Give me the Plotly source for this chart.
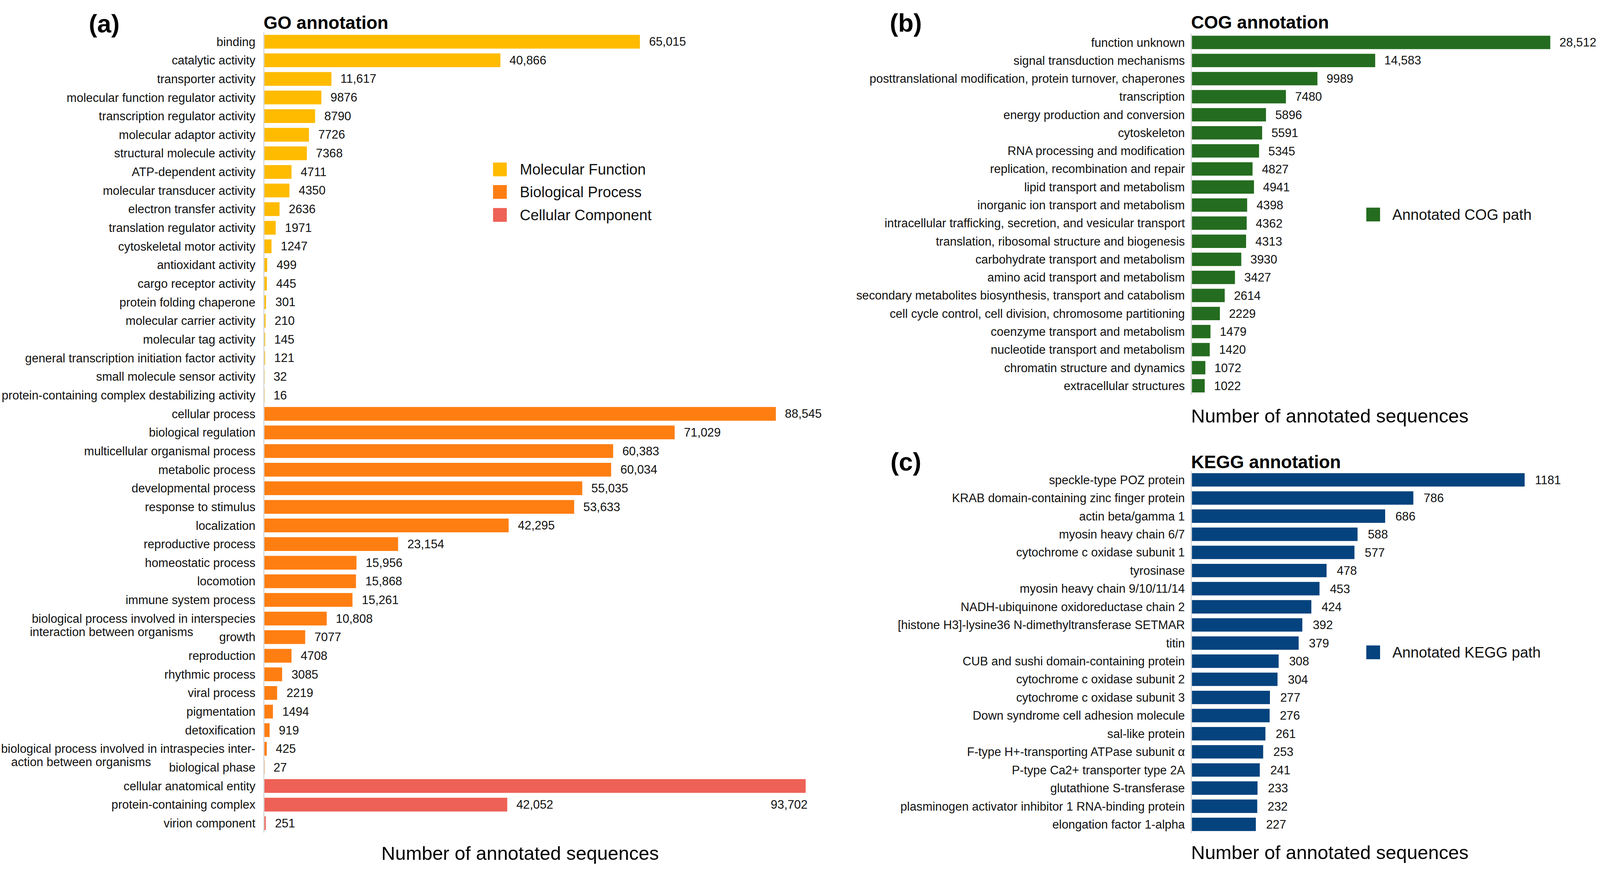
import plotly.graph_objects as go

W, H = 4183, 2269

# ---------------- data ----------------
mf_terms = [
    "binding", "catalytic activity", "transporter activity",
    "molecular function regulator activity", "transcription regulator activity",
    "molecular adaptor activity", "structural molecule activity",
    "ATP-dependent activity", "molecular transducer activity",
    "electron transfer activity", "translation regulator activity",
    "cytoskeletal motor activity", "antioxidant activity", "cargo receptor activity",
    "protein folding chaperone", "molecular carrier activity", "molecular tag activity",
    "general transcription initiation factor activity", "small molecule sensor activity",
    "protein-containing complex destabilizing activity",
]
mf_values = [65015, 40866, 11617, 9876, 8790, 7726, 7368, 4711, 4350, 2636,
             1971, 1247, 499, 445, 301, 210, 145, 121, 32, 16]

bp_terms = [
    "cellular process", "biological regulation", "multicellular organismal process",
    "metabolic process", "developmental process", "response to stimulus",
    "localization", "reproductive process", "homeostatic process", "locomotion",
    "immune system process",
    "biological process involved in interspecies interaction between organisms",
    "growth", "reproduction", "rhythmic process", "viral process", "pigmentation",
    "detoxification",
    "biological process involved in intraspecies interaction between organisms",
    "biological phase",
]
bp_values = [88545, 71029, 60383, 60034, 55035, 53633, 42295, 23154, 15956, 15868,
             15261, 10808, 7077, 4708, 3085, 2219, 1494, 919, 425, 27]

cc_terms = ["cellular anatomical entity", "protein-containing complex", "virion component"]
cc_values = [93702, 42052, 251]

cog_terms = [
    "function unknown", "signal transduction mechanisms",
    "posttranslational modification, protein turnover, chaperones", "transcription",
    "energy production and conversion", "cytoskeleton",
    "RNA processing and modification", "replication, recombination and repair",
    "lipid transport and metabolism", "inorganic ion transport and metabolism",
    "intracellular trafficking, secretion, and vesicular transport",
    "translation, ribosomal structure and biogenesis",
    "carbohydrate transport and metabolism", "amino acid transport and metabolism",
    "secondary metabolites biosynthesis, transport and catabolism",
    "cell cycle control, cell division, chromosome partitioning",
    "coenzyme transport and metabolism", "nucleotide transport and metabolism",
    "chromatin structure and dynamics", "extracellular structures",
]
cog_values = [28512, 14583, 9989, 7480, 5896, 5591, 5345, 4827, 4941, 4398,
              4362, 4313, 3930, 3427, 2614, 2229, 1479, 1420, 1072, 1022]

kegg_terms = [
    "speckle-type POZ protein", "KRAB domain-containing zinc finger protein",
    "actin beta/gamma 1", "myosin heavy chain 6/7", "cytochrome c oxidase subunit 1",
    "tyrosinase", "myosin heavy chain 9/10/11/14",
    "NADH-ubiquinone oxidoreductase chain 2",
    "[histone H3]-lysine36 N-dimethyltransferase SETMAR", "titin",
    "CUB and sushi domain-containing protein", "cytochrome c oxidase subunit 2",
    "cytochrome c oxidase subunit 3", "Down syndrome cell adhesion molecule",
    "sal-like protein", "F-type H+-transporting ATPase subunit \u03b1",
    "P-type Ca2+ transporter type 2A", "glutathione S-transferase",
    "plasminogen activator inhibitor 1 RNA-binding protein", "elongation factor 1-alpha",
]
kegg_values = [1181, 786, 686, 588, 577, 478, 453, 424, 392, 379,
               308, 304, 277, 276, 261, 253, 241, 233, 232, 227]

# labels printed on two lines in the original
split_labels = {
    "biological process involved in interspecies interaction between organisms":
        ("biological process involved in interspecies", "interaction between organisms"),
    "biological process involved in intraspecies interaction between organisms":
        ("biological process involved in intraspecies inter-", "action between organisms"),
}

# ---------------- style ----------------
C_MF, C_BP, C_CC = "#FFBB00", "#FF7E12", "#EE6156"
C_COG, C_KEGG = "#246C1F", "#04437E"
FONT = "Liberation Sans, Arial, Helvetica, sans-serif"
LBL = 31.5
TXT = "#111111"


def fx(p):
    return p / W


def fy(p):
    return 1 - p / H


def fmt(v):
    return f"{v:,}" if v >= 10000 else str(v)


go_terms = mf_terms + bp_terms + cc_terms
go_values = mf_values + bp_values + cc_values

fig = go.Figure()
for terms, vals, col in [(mf_terms, mf_values, C_MF), (bp_terms, bp_values, C_BP),
                         (cc_terms, cc_values, C_CC)]:
    fig.add_trace(go.Bar(y=terms, x=vals, orientation="h", marker=dict(color=col, line_width=0),
                         xaxis="x", yaxis="y", showlegend=False))
fig.add_trace(go.Bar(y=cog_terms, x=cog_values, orientation="h",
                     marker=dict(color=C_COG, line_width=0),
                     xaxis="x2", yaxis="y2", showlegend=False))
fig.add_trace(go.Bar(y=kegg_terms, x=kegg_values, orientation="h",
                     marker=dict(color=C_KEGG, line_width=0),
                     xaxis="x3", yaxis="y3", showlegend=False))

ax_x0 = fx(691)
ax_x1 = fx(3116)


def xaxis_cfg(domain, rng, anchor):
    return dict(domain=domain, range=rng, anchor=anchor, showline=False, showgrid=False,
                zeroline=False, showticklabels=False, ticks="", fixedrange=True,
                automargin=False)


def yaxis_cfg(domain, cats, anchor, standoff):
    ticktext = [split_labels[c][0] if c in split_labels else c for c in cats]
    return dict(domain=domain, anchor=anchor, type="category",
                categoryorder="array", categoryarray=cats,
                tickmode="array", tickvals=cats, ticktext=ticktext,
                range=[len(cats) - 0.5, -0.5],
                showline=True, linecolor="#d9d9d9", linewidth=3, showgrid=False,
                zeroline=False, ticks="", ticklabelstandoff=standoff,
                tickfont=dict(family=FONT, size=LBL, color=TXT), fixedrange=True,
                automargin=False)


# scales: px per unit derived from bar ends in the reference
go_range = [0, (W * 0.60 - 691) / (982 / 65015)]
cog_range = [0, (W - 3116) / (937 / 28512)]
kegg_range = [0, (W - 3116) / (870 / 1181)]

fig.update_layout(
    width=W, height=H, margin=dict(l=0, r=0, t=0, b=0, autoexpand=False),
    paper_bgcolor="white", plot_bgcolor="white",
    barmode="overlay", bargap=0.26, showlegend=False,
    xaxis=xaxis_cfg([ax_x0, 0.60], go_range, "y"),
    yaxis=yaxis_cfg([fy(2177.3), fy(84.7)], go_terms, "x", 14),
    xaxis2=xaxis_cfg([ax_x1, 1.0], cog_range, "y2"),
    yaxis2=yaxis_cfg([fy(1032.6), fy(87.4)], cog_terms, "x2", 9),
    xaxis3=xaxis_cfg([ax_x1, 1.0], kegg_range, "y3"),
    yaxis3=yaxis_cfg([fy(2179.7), fy(1231.3)], kegg_terms, "x3", 9),
)

ann = []
shapes = []


def label(x, y, xref, yref, text, xanchor="left", xshift=22):
    return dict(x=x, y=y, xref=xref, yref=yref, text=text, showarrow=False,
                xanchor=xanchor, yanchor="middle", xshift=xshift,
                font=dict(family=FONT, size=LBL, color=TXT))


# GO value labels (the largest CC bar has its label tucked under the bar end)
for i, (t, v) in enumerate(zip(go_terms, go_values)):
    if t == "cellular anatomical entity":
        ann.append(label(v, go_terms[i + 1], "x", "y", fmt(v), xanchor="right", xshift=7))
    else:
        ann.append(label(v, t, "x", "y", fmt(v)))
for t, v in zip(cog_terms, cog_values):
    ann.append(label(v, t, "x2", "y2", fmt(v)))
for t, v in zip(kegg_terms, kegg_values):
    ann.append(label(v, t, "x3", "y3", fmt(v), xshift=25))

# second lines of wrapped labels
second_line_x = {"biological process involved in interspecies interaction between organisms": 76,
                 "biological process involved in intraspecies interaction between organisms": 27}
for t, (l1, l2) in split_labels.items():
    ann.append(dict(x=fx(second_line_x[t]), y=t, xref="paper", yref="y", text=l2,
                    showarrow=False, xanchor="left", yanchor="middle", yshift=-35,
                    font=dict(family=FONT, size=LBL, color=TXT)))

# panel letters and titles
for letter, lx, ly, title, tx, ty in [("(a)", 272, 62, "GO annotation", 691, 60),
                                      ("(b)", 2368, 60, "COG annotation", 3116, 59),
                                      ("(c)", 2368, 1208, "KEGG annotation", 3116, 1207)]:
    ann.append(dict(x=fx(lx), y=fy(ly), xref="paper", yref="paper", text=f"<b>{letter}</b>",
                    showarrow=False, xanchor="center", yanchor="middle",
                    font=dict(family=FONT, size=66, color="black")))
    ann.append(dict(x=fx(tx - 4), y=fy(ty), xref="paper", yref="paper", text=f"<b>{title}</b>",
                    showarrow=False, xanchor="left", yanchor="middle",
                    font=dict(family=FONT, size=47, color="black")))

# axis titles
ann.append(dict(x=fx(1360), y=fy(2232), xref="paper", yref="paper",
                text="Number of annotated sequences", showarrow=False,
                xanchor="center", yanchor="middle", font=dict(family=FONT, size=50, color="black")))
for ay in (1088, 2230):
    ann.append(dict(x=fx(3112), y=fy(ay), xref="paper", yref="paper",
                    text="Number of annotated sequences", showarrow=False,
                    xanchor="left", yanchor="middle", font=dict(family=FONT, size=50, color="black")))

# legends (drawn as swatches + text)
legend_items = [("Molecular Function", C_MF, 1289, 1360, 443),
                ("Biological Process", C_BP, 1289, 1360, 502),
                ("Cellular Component", C_CC, 1289, 1360, 562),
                ("Annotated COG path", C_COG, 3572, 3641, 561),
                ("Annotated KEGG path", C_KEGG, 3572, 3641, 1706)]
for name, col, sx, tx, cy in legend_items:
    shapes.append(dict(type="rect", xref="paper", yref="paper",
                       x0=fx(sx), x1=fx(sx + 36), y0=fy(cy + 18), y1=fy(cy - 18),
                       fillcolor=col, line_width=0))
    ann.append(dict(x=fx(tx - 3), y=fy(cy), xref="paper", yref="paper", text=name,
                    showarrow=False, xanchor="left", yanchor="middle",
                    font=dict(family=FONT, size=39, color=TXT)))

fig.update_layout(annotations=ann, shapes=shapes)

# fit the fixed-size figure exactly into the browser viewport
fit_js = (
    "document.documentElement.style.margin='0';"
    "document.body.style.margin='0';document.body.style.overflow='hidden';"
    "document.documentElement.style.overflow='hidden';"
    "var gd=document.getElementById('{plot_id}');"
    "var s=Math.min(window.innerWidth/%d, window.innerHeight/%d);"
    "gd.style.transformOrigin='0 0';gd.style.transform='scale('+s+')';" % (W, H)
)
fig.write_html("out.html", post_script=fit_js, config={"displayModeBar": False})
